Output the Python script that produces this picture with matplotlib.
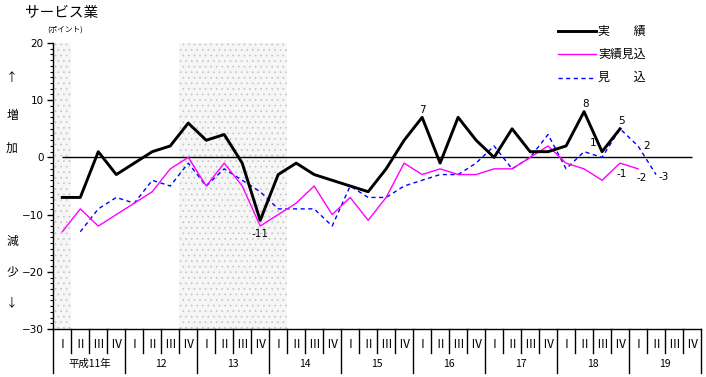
import matplotlib
matplotlib.use('Agg')
import matplotlib.pyplot as plt
from matplotlib.lines import Line2D
import matplotlib.transforms as mtransforms

plt.rcParams['font.family'] = ['Noto Sans CJK JP', 'DejaVu Sans']
plt.rcParams['hatch.linewidth'] = 0.5

# data: quarters from 平成11年 I to 19 IV
years = ['平成11年', '12', '13', '14', '15', '16', '17', '18', '19']
quarters = ['Ⅰ', 'Ⅱ', 'Ⅲ', 'Ⅳ']

jisseki = [-7, -7, 1, -3, -1, 1, 2, 6, 3, 4, -1, -11, -3, -1, -3, -4,
           -5, -6, -2, 3, 7, -1, 7, 3, 0, 5, 1, 1, 2, 8, 1, 5]
jisseki_mikomi = [-13, -9, -12, -10, -8, -6, -2, 0, -5, -1, -5, -12, -10, -8, -5, -10,
                  -7, -11, -7, -1, -3, -2, -3, -3, -2, -2, 0, 2, -1, -2, -4, -1, -2]
mikomi_start = 1
mikomi = [-13, -9, -7, -8, -4, -5, -1, -5, -2, -4, -6, -9, -9, -9, -12,
          -5, -7, -7, -5, -4, -3, -3, -1, 2, -2, 0, 4, -2, 1, 0, 5, 2, -3]

# shaded periods (quarter index ranges)
shade = [(0, 1), (7, 13)]

# value labels: (x index, series, text, dx, dy)
labels = [(20, 'a', '7', 0.0, 1.3), (11, 'a', '-11', 0.0, -2.4), (29, 'a', '8', 0.1, 1.4),
          (31, 'a', '5', 0.1, 1.4), (29, 'c', '1', 0.5, 1.5), (32, 'c', '2', 0.5, 0.0),
          (31, 'b', '-1', 0.1, -1.9), (32, 'b', '-2', 0.2, -1.6), (33, 'c', '-3', 0.4, -0.4)]

W, H = 706, 377
fig = plt.figure(figsize=(W / 100, H / 100), dpi=100)
ax = fig.add_axes([53.3 / W, 1 - 329 / H, 647.7 / W, 286 / H])

for a, b in shade:
    ax.axvspan(a, b, facecolor='#f6f6f6', edgecolor='#c4c4c4', hatch='...', lw=0, zorder=0)

ax.hlines(0, 0.5, 35.5, color='black', lw=1, zorder=1)

x1 = [i + 0.5 for i in range(len(jisseki))]
x2 = [i + 0.5 for i in range(len(jisseki_mikomi))]
x3 = [i + mikomi_start + 0.5 for i in range(len(mikomi))]
ax.plot(x3, mikomi, color='#0000ff', lw=1, ls=(0, (3, 2.5)), zorder=2)
ax.plot(x2, jisseki_mikomi, color='#ff00ff', lw=1, zorder=3)
ax.plot(x1, jisseki, color='black', lw=2.1, zorder=4)

# value labels
for i, s, t, dx, dy in labels:
    if s == 'a':
        base = jisseki[i]
    elif s == 'b':
        base = jisseki_mikomi[i]
    else:
        base = mikomi[i - mikomi_start]
    ax.text(i + 0.5 + dx, base + dy, t, ha='center', va='center', fontsize=7.5,
            family='DejaVu Sans')

ax.set_xlim(0, 36)
ax.set_ylim(-30, 20)
ax.set_xticks([])
ax.set_yticks(range(-30, 21, 10))
ax.set_yticks(range(-30, 21, 1), minor=True)
ax.tick_params(axis='y', which='major', length=4, width=1, labelsize=7.5, pad=3)
ax.tick_params(axis='y', which='minor', length=2, width=0.8)
for lab in ax.get_yticklabels():
    lab.set_family('DejaVu Sans')
ax.spines['top'].set_visible(False)
ax.spines['right'].set_visible(False)
ax.spines['left'].set_linewidth(1)
ax.spines['bottom'].set_linewidth(1)

# quarter / year table below the axis
trans = mtransforms.blended_transform_factory(ax.transData, ax.transAxes)
q_low = -24 / 286
y_low = -44 / 286
for k in range(0, 37):
    low = y_low if k % 4 == 0 else q_low
    ax.add_line(Line2D([k, k], [0, low], color='black', lw=1, transform=trans, clip_on=False))
for i in range(36):
    ax.text(i + 0.5, -15 / 286, quarters[i % 4], transform=trans, ha='center', va='center',
            fontsize=8.5)
for j, yl in enumerate(years):
    ax.text(j * 4 + 2, -35 / 286, yl, transform=trans, ha='center', va='center', fontsize=7.5)

# title and side labels
def px(x, y):
    return x / W, 1 - y / H

fig.text(*px(25, 13), 'サービス業', ha='left', va='center', fontsize=10.5)
fig.text(*px(47, 30), '(ポイント)', ha='left', va='center', fontsize=5.5)
for s, yy in [('↑', 78), ('増', 116), ('加', 148), ('減', 241), ('少', 272), ('↓', 303)]:
    fig.text(*px(12, yy), s, ha='center', va='center', fontsize=8.5)

# legend
legend = [('実　　績', 'black', 2.1, '-'), ('実績見込', '#ff00ff', 1, '-'),
          ('見　　込', '#0000ff', 1, (0, (3, 2.5)))]
for n, (name, c, lw, ls) in enumerate(legend):
    yy = 31 + n * 23.3
    x0, y0 = px(558, yy)
    x1_, _ = px(596, yy)
    fig.add_artist(Line2D([x0, x1_], [y0, y0], color=c, lw=lw, ls=ls, transform=fig.transFigure))
    fig.text(*px(598, yy), name, ha='left', va='center', fontsize=8.6)

fig.savefig('out.png', dpi=100)
